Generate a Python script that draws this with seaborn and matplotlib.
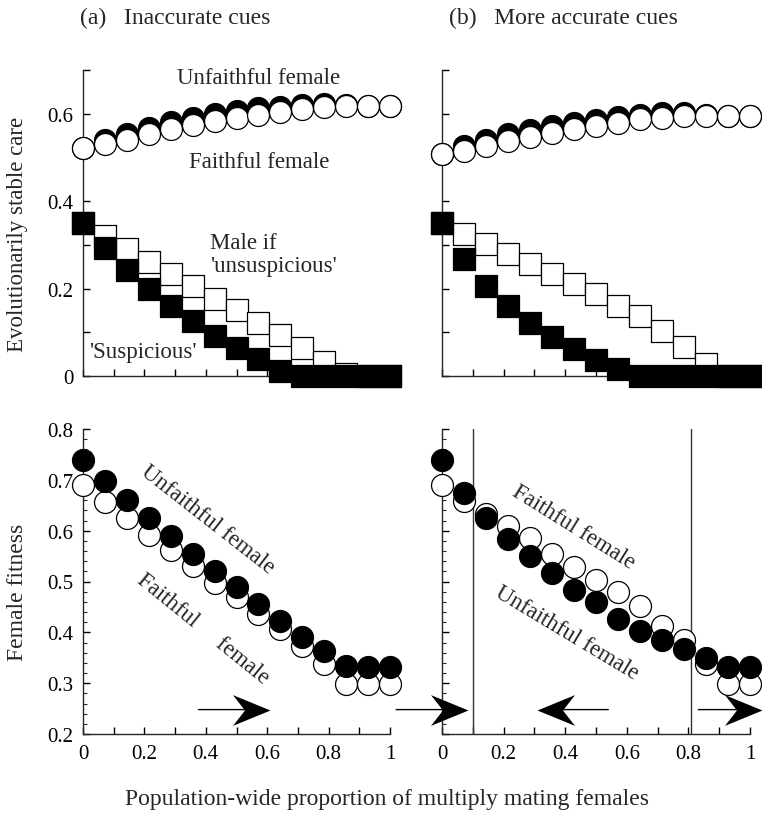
import numpy as np
import pandas as pd
import matplotlib
matplotlib.use("Agg")
import matplotlib.pyplot as plt
from matplotlib.path import Path
import seaborn as sns

# ---------------- data ----------------
x = [i / 14 for i in range(15)]

# (a) inaccurate cues - evolutionarily stable care
care_a_unfaithful = [0.522, 0.540, 0.554, 0.568, 0.580, 0.590, 0.599, 0.606, 0.612, 0.616, 0.620, 0.622, 0.621, 0.618, 0.618]
care_a_faithful   = [0.522, 0.530, 0.541, 0.553, 0.564, 0.574, 0.583, 0.591, 0.598, 0.604, 0.610, 0.615, 0.618, 0.618, 0.618]
care_a_unsusp     = [0.350, 0.321, 0.290, 0.261, 0.234, 0.207, 0.177, 0.151, 0.122, 0.093, 0.065, 0.031, 0.004, 0.0, 0.0]
care_a_susp       = [0.350, 0.293, 0.243, 0.198, 0.160, 0.126, 0.091, 0.065, 0.039, 0.012, 0.0, 0.0, 0.0, 0.0, 0.0]

# (b) more accurate cues - evolutionarily stable care
care_b_unfaithful = [0.507, 0.526, 0.541, 0.553, 0.563, 0.572, 0.579, 0.586, 0.592, 0.598, 0.601, 0.601, 0.598, 0.595, 0.595]
care_b_faithful   = [0.507, 0.514, 0.526, 0.537, 0.547, 0.556, 0.564, 0.572, 0.579, 0.587, 0.591, 0.595, 0.595, 0.595, 0.595]
care_b_unsusp     = [0.350, 0.325, 0.302, 0.280, 0.257, 0.234, 0.211, 0.187, 0.161, 0.137, 0.103, 0.067, 0.027, 0.0, 0.0]
care_b_susp       = [0.350, 0.267, 0.206, 0.160, 0.121, 0.089, 0.062, 0.036, 0.015, 0.0, 0.0, 0.0, 0.0, 0.0, 0.0]

# female fitness
fit_a_unfaithful = [0.739, 0.698, 0.660, 0.624, 0.589, 0.554, 0.521, 0.489, 0.456, 0.423, 0.390, 0.363, 0.334, 0.331, 0.331]
fit_a_faithful   = [0.690, 0.657, 0.625, 0.592, 0.561, 0.531, 0.498, 0.469, 0.436, 0.407, 0.374, 0.338, 0.298, 0.298, 0.298]
fit_b_unfaithful = [0.739, 0.675, 0.625, 0.584, 0.550, 0.517, 0.484, 0.459, 0.426, 0.403, 0.384, 0.367, 0.349, 0.331, 0.331]
fit_b_faithful   = [0.690, 0.659, 0.633, 0.609, 0.585, 0.554, 0.528, 0.503, 0.479, 0.452, 0.412, 0.384, 0.338, 0.298, 0.298]

# unstable equilibria (vertical lines) in panel b
thresholds_b = [0.10, 0.81]

# direction-of-selection arrows (tail x, head x) at fitness level arrow_y
arrows_a = [(0.376, 0.608)]
arrows_b = [(0.54, 0.308), (0.832, 1.04)]
cross_arrow = (1.02, 0.084)   # tail in panel a coordinates, head in panel b coordinates
arrow_y = 0.248

x_ticks = [0.0, 0.1, 0.2, 0.3, 0.4, 0.5, 0.6, 0.7, 0.8, 0.9, 1.0]
x_ticklabels = ["0", "", "0.2", "", "0.4", "", "0.6", "", "0.8", "", "1"]
care_ticks = [0.0, 0.1, 0.2, 0.3, 0.4, 0.5, 0.6, 0.7]
care_ticklabels = ["0", "", "0.2", "", "0.4", "", "0.6", ""]
fit_ticks = [0.2, 0.3, 0.4, 0.5, 0.6, 0.7, 0.8]
fit_ticklabels = ["0.2", "0.3", "0.4", "0.5", "0.6", "0.7", "0.8"]

# ---------------- style ----------------
sns.set_theme(style="ticks")
plt.rcParams["font.family"] = ["Liberation Serif", "DejaVu Serif"]
plt.rcParams["font.size"] = 15

W, H = 762, 820
fig = plt.figure(figsize=(W / 100, H / 100), dpi=100)

def px_axes(left, right, top, bottom):
    return fig.add_axes([left / W, 1 - bottom / H, (right - left) / W, (bottom - top) / H])

ax_tl = px_axes(83, 390, 71, 377)
ax_tr = px_axes(442, 750, 71, 377)
ax_bl = px_axes(83, 390, 430, 735)
ax_br = px_axes(442, 750, 430, 735)

MS = 250
LW = 0.9
TXT = 16.5

def scatter(ax, yvals, filled, marker, z):
    df = pd.DataFrame({"x": x, "y": yvals})
    sns.scatterplot(data=df, x="x", y="y", ax=ax, marker=marker, s=MS,
                    color="black" if filled else "white",
                    edgecolor="black", linewidth=LW, clip_on=False, zorder=z,
                    legend=False)

for ax, uf, f, un, su in [(ax_tl, care_a_unfaithful, care_a_faithful, care_a_unsusp, care_a_susp),
                          (ax_tr, care_b_unfaithful, care_b_faithful, care_b_unsusp, care_b_susp)]:
    scatter(ax, uf, True, "o", 3)
    scatter(ax, f, False, "o", 4)
    scatter(ax, un, False, "s", 3)
    scatter(ax, su, True, "s", 4)
    ax.set_xlim(0, 1)
    ax.set_ylim(0, 0.7)
    ax.set_yticks(care_ticks)
    ax.set_xticks(x_ticks)
    ax.set_xticklabels([])

ax_tl.set_yticklabels(care_ticklabels)
ax_tr.set_yticklabels([])

for ax, uf, f in [(ax_bl, fit_a_unfaithful, fit_a_faithful),
                  (ax_br, fit_b_unfaithful, fit_b_faithful)]:
    scatter(ax, f, False, "o", 3)
    scatter(ax, uf, True, "o", 4)
    ax.set_xlim(0, 1)
    ax.set_ylim(0.2, 0.8)
    ax.set_yticks(fit_ticks)
    ax.set_yticks(np.arange(0.2, 0.8001, 0.02), minor=True)
    ax.set_xticks(x_ticks)
    ax.set_xticklabels(x_ticklabels)

ax_bl.set_yticklabels(fit_ticklabels)
ax_br.set_yticklabels([])

for ax in [ax_tl, ax_tr, ax_bl, ax_br]:
    sns.despine(ax=ax)
    ax.spines["left"].set_linewidth(1.0)
    ax.spines["bottom"].set_linewidth(1.0)
    ax.tick_params(direction="in", length=5, width=1.0, pad=7, labelsize=15, colors="black")
    ax.tick_params(which="minor", direction="in", length=3, width=0.8)
    ax.set_xlabel("")
    ax.set_ylabel("")
    ax.patch.set_alpha(0)

for xv in thresholds_b:
    ax_br.axvline(xv, color="#333333", lw=1.0, zorder=2)

# annotations panel (a) top
ax_tl.text(0.573, 0.682, "Unfaithful female", ha="center", va="center", fontsize=TXT)
ax_tl.text(0.573, 0.49, "Faithful female", ha="center", va="center", fontsize=TXT)
ax_tl.text(0.415, 0.279, "Male if\n'unsuspicious'", ha="left", va="center", fontsize=TXT, linespacing=1.15)
ax_tl.text(0.02, 0.055, "'Suspicious'", ha="left", va="center", fontsize=TXT)

# annotations bottom
ax_bl.text(0.407, 0.623, "Unfaithful female", ha="center", va="center", rotation=-38,
           rotation_mode="anchor", fontsize=TXT)
ax_bl.text(0.39, 0.408, "Faithful     female", ha="center", va="center", rotation=-39,
           rotation_mode="anchor", fontsize=TXT)
ax_br.text(0.426, 0.609, "Faithful female", ha="center", va="center", rotation=-32,
           rotation_mode="anchor", fontsize=TXT)
ax_br.text(0.405, 0.40, "Unfaithful female", ha="center", va="center", rotation=-31,
           rotation_mode="anchor", fontsize=TXT)

# barbed arrowheads as path markers (tip at the marker origin)
head_right = Path([(0, 0), (-2, 0.82), (-1.36, 0), (-2, -0.82), (0, 0)],
                  [Path.MOVETO, Path.LINETO, Path.LINETO, Path.LINETO, Path.CLOSEPOLY])
head_left = Path([(0, 0), (2, 0.82), (1.36, 0), (2, -0.82), (0, 0)],
                 [Path.MOVETO, Path.LINETO, Path.LINETO, Path.LINETO, Path.CLOSEPOLY])
HEAD_MS = 54

def draw_arrow(ax, tail, head, tail_transform=None):
    ax.annotate("", xy=(head, arrow_y), xycoords=ax.transData,
                xytext=(tail, arrow_y), textcoords=tail_transform or ax.transData,
                arrowprops=dict(arrowstyle="-", color="black", lw=1.0, shrinkA=0, shrinkB=14),
                annotation_clip=False)
    ax.plot([head], [arrow_y], marker=head_right if head > tail or tail_transform else head_left,
            markersize=HEAD_MS, color="black", markeredgewidth=0, clip_on=False, zorder=6)

for t, h in arrows_a:
    draw_arrow(ax_bl, t, h)
for t, h in arrows_b:
    draw_arrow(ax_br, t, h)
draw_arrow(ax_br, cross_arrow[0], cross_arrow[1], tail_transform=ax_bl.transData)

# titles and axis labels
fig.text(80 / W, 1 - 18 / H, "(a)   Inaccurate cues", ha="left", va="center", fontsize=17)
fig.text(449 / W, 1 - 18 / H, "(b)   More accurate cues", ha="left", va="center", fontsize=17)
fig.text(18 / W, 1 - 234 / H, "Evolutionarily stable care", rotation=90, ha="center", va="center", fontsize=16.5)
fig.text(18 / W, 1 - 592 / H, "Female fitness", rotation=90, ha="center", va="center", fontsize=17)
fig.text(387 / W, 1 - 800 / H, "Population-wide proportion of multiply mating females",
         ha="center", va="center", fontsize=17)

fig.savefig("out.png", dpi=100, facecolor="white")
